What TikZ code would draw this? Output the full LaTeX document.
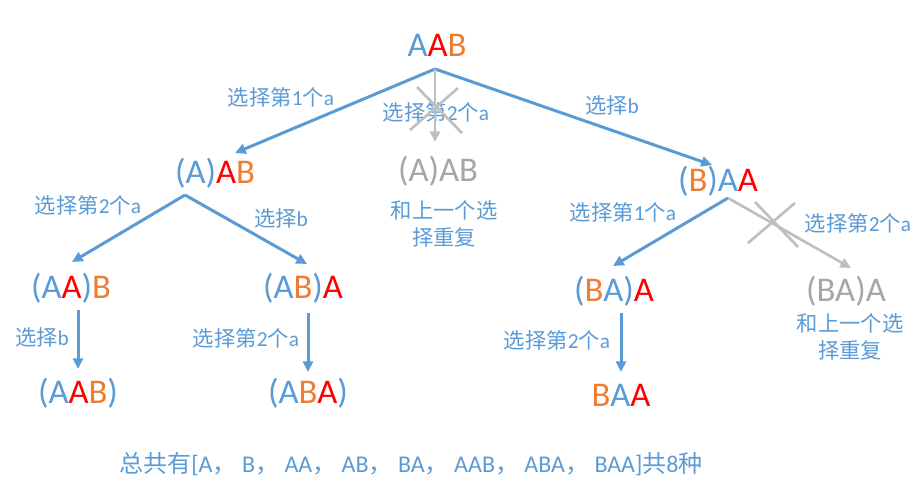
\documentclass[tikz,border=0pt]{standalone}
\usepackage{fontspec}
\setmainfont{Carlito}
\newfontfamily\cjk{Noto Sans CJK SC}
\usepackage{tikz}
\usetikzlibrary{arrows.meta}

\definecolor{cblue}{HTML}{5B9BD5}
\definecolor{cred}{HTML}{FF0000}
\definecolor{corange}{HTML}{ED7D31}
\definecolor{cgray}{HTML}{A6A6A6}
\definecolor{cline}{HTML}{BFBFBF}

% coloured letters
\def\rdA{\textcolor{cred}{A}}
\def\orB{\textcolor{corange}{B}}
% chinese text
\def\zh#1{{\cjk #1}}

\begin{document}
\begin{tikzpicture}[x=0.75pt,y=-0.75pt,
  word/.style={anchor=base,inner sep=0pt,font=\fontsize{26}{30}\selectfont,text=cblue},
  grayword/.style={word,text=cgray},
  choice/.style={anchor=base,inner sep=0pt,font=\fontsize{16}{20}\selectfont,text=cblue},
  note/.style={choice,align=center,font=\cjk\fontsize{16}{20}\selectfont},
  pick/.style={draw=cblue,line width=2.25pt,-{Triangle[length=8pt,width=7.5pt]}},
  skip/.style={draw=cline,line width=2pt,-{Triangle[length=8pt,width=7.5pt]}},
  cross/.style={draw=cline,line width=2pt}]

\useasboundingbox (0,0) rectangle (923,489);

% Level 0
\node[word] (aab) at (437,56) {A\rdA\orB};

% Level 1
\node[word] (n1) at (215,183) {(A)\rdA\orB};
\node[grayword] (n1dup) at (438,181) {(A)AB};
\node[note] (d1) at (444,245) {和上一个选\\择重复};
\node[word] (n2) at (718,191) {(\orB)A\rdA};

% Level 2
\node[word] (n11) at (71,298) {(A\rdA)\orB};
\node[word] (n12) at (303,298) {(A\orB)\rdA};
\node[word] (n21) at (614,301) {(\orB A)\rdA};
\node[grayword] (n2dup) at (846,301) {(BA)A};
\node[note] (d2) at (850,358) {和上一个选\\择重复};

% Level 3
\node[word] (n111) at (78,403) {(A\rdA\orB)};
\node[word] (n121) at (308,403) {(A\orB\rdA)};
\node[word] (n211) at (621,406) {\orB A\rdA};

% Labels on the branches
\node[choice] (l1) at (281,105) {\zh{选择第}1\zh{个}a};
\node[choice] (l2) at (436,120) {\zh{选择第}2\zh{个}a};
\node[choice] (l3) at (612,113) {\zh{选择}b};
\node[choice] (l11) at (88,213) {\zh{选择第}2\zh{个}a};
\node[choice] (l12) at (281,226) {\zh{选择}b};
\node[choice] (l21) at (623,220) {\zh{选择第}1\zh{个}a};
\node[choice] (l22) at (858,231) {\zh{选择第}2\zh{个}a};
\node[choice] (l111) at (42,345) {\zh{选择}b};
\node[choice] (l121) at (246,346) {\zh{选择第}2\zh{个}a};
\node[choice] (l211) at (557,348) {\zh{选择第}2\zh{个}a};

% Define coordinates.
\coordinate (s0) at (435,69);
\coordinate (s1) at (185,195);
\coordinate (s2) at (728,198);
\coordinate (t1) at (235,153);
\coordinate (t1dup) at (435,142);
\coordinate (t2) at (712,165);
\coordinate (t11) at (72,262);
\coordinate (t12) at (307,264);
\coordinate (t21) at (613,266);
\coordinate (t2dup) at (851,268);
\coordinate (s11) at (78,310);
\coordinate (t111) at (78,369);
\coordinate (s12) at (308,313);
\coordinate (t121) at (308,372);
\coordinate (s21) at (621,313);
\coordinate (t211) at (621,372);

% Branches
\draw[pick] (s0) -- (t1);
\draw[pick] (s0) -- (t2);
\draw[skip] (s0) -- (t1dup);
\draw[pick] (s1) -- (t11);
\draw[pick] (s1) -- (t12);
\draw[pick] (s2) -- (t21);
\draw[skip] (s2) -- (t2dup);
\draw[pick] (s11) -- (t111);
\draw[pick] (s12) -- (t121);
\draw[pick] (s21) -- (t211);

% Crossed out choices
\draw[cross] (417,87) -- (462,133);
\draw[cross] (458,88) -- (410,130);
\draw[cross] (755,202) -- (798,247);
\draw[cross] (795,203) -- (748,243);

% Summary
\node[choice,font=\fontsize{18}{22}\selectfont] (sum) at (411,472)
  {\zh{总共有}[A\zh{，} B\zh{，} AA\zh{，} AB\zh{，} BA\zh{，} AAB\zh{，} ABA\zh{，} BAA]\zh{共}8\zh{种}};

\end{tikzpicture}
\end{document}
